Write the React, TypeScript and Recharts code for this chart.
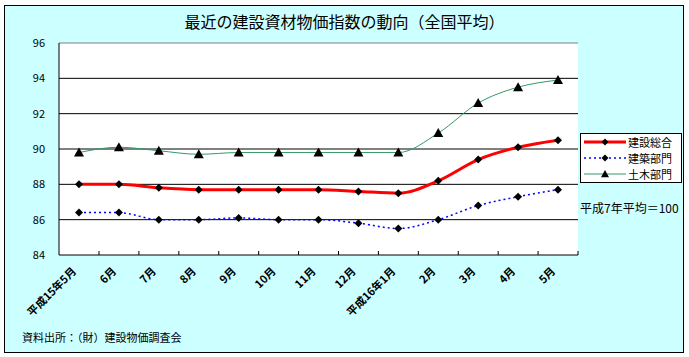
import React from 'react';
import {
  LineChart, Line, XAxis, YAxis, CartesianGrid, Legend, ReferenceLine
} from 'recharts';

// 平成15年5月〜平成16年5月（平成7年平均＝100）
const months = ['平成15年5月', '6月', '7月', '8月', '9月', '10月', '11月', '12月', '平成16年1月', '2月', '3月', '4月', '5月'];
const kensetsuSogo = [88.0, 88.0, 87.8, 87.7, 87.7, 87.7, 87.7, 87.6, 87.5, 88.2, 89.4, 90.1, 90.5];
const kenchiku = [86.4, 86.4, 86.0, 86.0, 86.1, 86.0, 86.0, 85.8, 85.5, 86.0, 86.8, 87.3, 87.7];
const doboku = [89.8, 90.1, 89.9, 89.7, 89.8, 89.8, 89.8, 89.8, 89.8, 90.9, 92.6, 93.5, 93.9];
const yTicks = [84, 86, 88, 90, 92, 94, 96];
const legendOrder = ['sogo', 'kenchiku', 'doboku'];

const data = months.map((m, i) => ({
  month: m,
  sogo: kensetsuSogo[i],
  kenchiku: kenchiku[i],
  doboku: doboku[i],
}));

const FONT = '"Noto Sans CJK JP", "Noto Sans", sans-serif';

const diamond = (cx: number, cy: number, r = 4) =>
  `M${cx},${cy - r} L${cx + r},${cy} L${cx},${cy + r} L${cx - r},${cy} Z`;
const triangle = (cx: number, cy: number, r = 5) =>
  `M${cx},${cy - r} L${cx + r},${cy + r * 0.8} L${cx - r},${cy + r * 0.8} Z`;

const DiamondDot = (props: any) => {
  const { cx, cy, index } = props;
  if (cx == null || cy == null) return <g key={`dd-${index}`} />;
  return <path key={`dd-${index}`} d={diamond(cx, cy)} fill="#000" />;
};
const TriangleDot = (props: any) => {
  const { cx, cy, index } = props;
  if (cx == null || cy == null) return <g key={`td-${index}`} />;
  return <path key={`td-${index}`} d={triangle(cx, cy)} fill="#000" />;
};

// category ticks sit between the points, labels slanted
const XTick = (props: any) => {
  const { x, y, payload } = props;
  return (
    <g>
      <line x1={x + 20} y1={y} x2={x + 20} y2={y - 4} stroke="#000" />
      <text
        transform={`translate(${x - 2},${y + 17}) rotate(-45)`}
        textAnchor="end"
        fontSize={11}
        fontWeight="bold"
        fontFamily={FONT}
        fill="#000"
      >
        {payload.value}
      </text>
    </g>
  );
};

const LegendBox = (props: any) => {
  const items = [...(props.payload || [])].sort(
    (a: any, b: any) => legendOrder.indexOf(a.dataKey) - legendOrder.indexOf(b.dataKey)
  );
  return (
    <div style={{ fontFamily: FONT }}>
      <div
        style={{
          width: 102,
          height: 50,
          border: '1px solid #000',
          background: '#fff',
          padding: '0 0 0 2px',
          boxSizing: 'border-box',
        }}
      >
        {items.map((p: any) => {
          const key = p.dataKey;
          const stroke = p.color;
          const dash = key === 'kenchiku' ? '2 3' : undefined;
          const sw = key === 'sogo' ? 3 : key === 'kenchiku' ? 1.5 : 1;
          return (
            <div key={key} style={{ display: 'flex', alignItems: 'center', height: 16 }}>
              <svg width={44} height={12}>
                <line x1={1} y1={6} x2={43} y2={6} stroke={stroke} strokeWidth={sw} strokeDasharray={dash} />
                <path d={key === 'doboku' ? triangle(22, 6, 4) : diamond(22, 6, 3.5)} fill="#000" />
              </svg>
              <span style={{ fontSize: 11, lineHeight: '16px', marginLeft: 1, whiteSpace: 'nowrap' }}>{p.value}</span>
            </div>
          );
        })}
      </div>
      <div style={{ fontSize: 12, marginTop: 16, whiteSpace: 'nowrap' }}>平成7年平均＝100</div>
    </div>
  );
};

export default function App() {
  return (
    <div style={{ position: 'absolute', left: 0, top: 0, width: 689, height: 357, fontFamily: FONT }}>
      <div
        style={{
          position: 'absolute',
          left: 4,
          top: 5,
          width: 680,
          height: 348,
          boxSizing: 'border-box',
          border: '1px solid #000',
          background: '#CCFFFF',
        }}
      />
      <div
        style={{
          position: 'absolute',
          left: 0,
          width: 689,
          top: 10,
          textAlign: 'center',
          fontSize: 16,
          lineHeight: '22px',
          color: '#000',
        }}
      >
        最近の建設資材物価指数の動向（全国平均）
      </div>
      <div style={{ position: 'absolute', left: 0, top: 0 }}>
        <LineChart
          width={689}
          height={357}
          data={data}
          margin={{ top: 43, right: 111, left: 19, bottom: 42 }}
        >
          <CartesianGrid vertical={false} stroke="#000" fill="#fff" horizontalValues={[86, 88, 90, 92, 94]} />
          <XAxis
            dataKey="month"
            interval={0}
            padding={{ left: 20, right: 20 }}
            axisLine={{ stroke: '#000' }}
            tickLine={false}
            tickSize={0}
            tickMargin={0}
            height={60}
            tick={<XTick />}
          />
          <YAxis
            domain={[84, 96]}
            ticks={yTicks}
            width={40}
            axisLine={{ stroke: '#000' }}
            tickLine={false}
            tickSize={0}
            tickMargin={14}
            tick={{ fill: '#000', fontSize: 11, fontFamily: FONT }}
          />
          <YAxis
            yAxisId="frame"
            orientation="right"
            domain={[84, 96]}
            width={0}
            tick={false}
            tickLine={false}
            axisLine={{ stroke: '#808080' }}
          />
          <ReferenceLine y={96} stroke="#808080" />
          <Legend
            layout="horizontal"
            verticalAlign="middle"
            align="center"
            wrapperStyle={{ left: 580, top: 133, width: 105 }}
            content={<LegendBox />}
          />
          <Line
            name="建設総合"
            dataKey="sogo"
            type="monotone"
            stroke="#FF0000"
            strokeWidth={3}
            dot={DiamondDot}
            isAnimationActive={false}
          />
          <Line
            name="建築部門"
            dataKey="kenchiku"
            type="monotone"
            stroke="#0000FF"
            strokeWidth={1.5}
            strokeDasharray="2 3"
            dot={DiamondDot}
            isAnimationActive={false}
          />
          <Line
            name="土木部門"
            dataKey="doboku"
            type="monotone"
            stroke="#339966"
            strokeWidth={1}
            dot={TriangleDot}
            isAnimationActive={false}
          />
        </LineChart>
      </div>
      <div style={{ position: 'absolute', left: 22, top: 329, fontSize: 11, color: '#000', whiteSpace: 'nowrap' }}>
        資料出所：（財）建設物価調査会
      </div>
    </div>
  );
}
